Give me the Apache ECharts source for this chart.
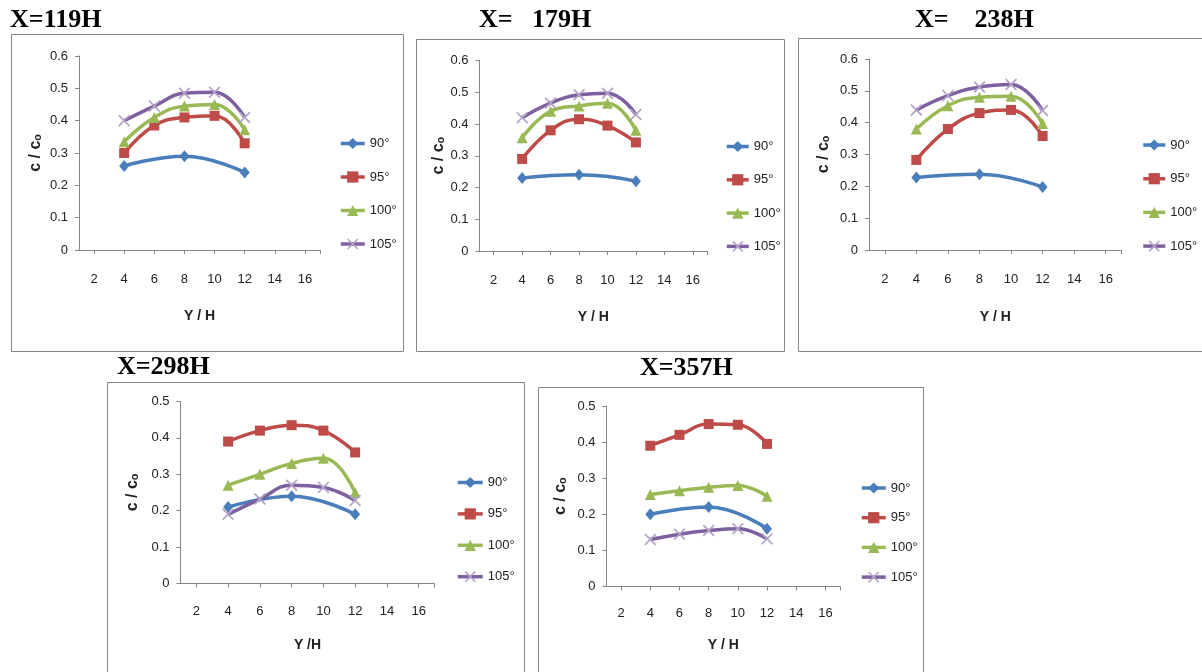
<!DOCTYPE html>
<html>
<head>
<meta charset="utf-8">
<script src="https://cdn.jsdelivr.net/npm/echarts@6/dist/echarts.min.js"></script>
<style>html,body{margin:0;padding:0;background:#fff}#c{width:1202px;height:672px}</style>
</head>
<body>
<div id="c"></div>
<script>
// ---- data ----
const seriesNames = ['90°', '95°', '100°', '105°'];
const xFull = [4, 6, 8, 10, 12];
const x90 = [4, 8, 12];
const panelTitles = ['X=119H', 'X=   179H', 'X=    238H', 'X=298H', 'X=357H'];
const xTickLabels = [2, 4, 6, 8, 10, 12, 14, 16];
const yMaxTop = 0.6;
const yMaxBottom = 0.5;

// X=119H
const p1_90 = [0.26, 0.29, 0.24];
const p1_95 = [0.30, 0.385, 0.41, 0.415, 0.33];
const p1_100 = [0.335, 0.41, 0.445, 0.45, 0.372];
const p1_105 = [0.40, 0.445, 0.485, 0.488, 0.41];
// X=179H
const p2_90 = [0.23, 0.24, 0.22];
const p2_95 = [0.29, 0.38, 0.415, 0.395, 0.342];
const p2_100 = [0.357, 0.44, 0.457, 0.465, 0.38];
const p2_105 = [0.42, 0.466, 0.492, 0.497, 0.43];
// X=238H
const p3_90 = [0.228, 0.238, 0.198];
const p3_95 = [0.283, 0.38, 0.43, 0.44, 0.358];
const p3_100 = [0.38, 0.453, 0.48, 0.483, 0.397];
const p3_105 = [0.44, 0.485, 0.512, 0.52, 0.438];
// X=298H
const p4_90 = [0.21, 0.24, 0.19];
const p4_95 = [0.39, 0.42, 0.435, 0.42, 0.36];
const p4_100 = [0.27, 0.30, 0.33, 0.344, 0.25];
const p4_105 = [0.19, 0.232, 0.27, 0.264, 0.228];
// X=357H
const p5_90 = [0.20, 0.22, 0.16];
const p5_95 = [0.39, 0.42, 0.45, 0.448, 0.395];
const p5_100 = [0.255, 0.265, 0.275, 0.28, 0.25];
const p5_105 = [0.13, 0.145, 0.155, 0.16, 0.132];

const panelData = [
  [p1_90, p1_95, p1_100, p1_105],
  [p2_90, p2_95, p2_100, p2_105],
  [p3_90, p3_95, p3_100, p3_105],
  [p4_90, p4_95, p4_100, p4_105],
  [p5_90, p5_95, p5_100, p5_105]
];

// ---- layout (pixels) ----
const layout = [
  { frame: [11, 34, 392, 317], grid: [79, 56, 241, 194], yMax: yMaxTop, title: [10, 20], legend: [339, 137, 20.5, 24], xGap: 59, yGap: 35, lblM: 23 },
  { frame: [416, 39, 368, 312], grid: [479.5, 60.5, 227.5, 190.5], yMax: yMaxTop, title: [479, 20], legend: [725, 140, 20.3, 22], xGap: 59, yGap: 32, lblM: 23 },
  { frame: [798, 38, 410, 313], grid: [869, 59, 252.5, 191], yMax: yMaxTop, title: [915, 20], legend: [1141.5, 138.5, 20.7, 22], xGap: 60, yGap: 37, lblM: 23 },
  { frame: [107, 382, 417, 300], grid: [180.5, 401.5, 254, 182], yMax: yMaxBottom, title: [117, 367], legend: [456, 476, 18.4, 25], xGap: 55, yGap: 40, lblM: 21 },
  { frame: [538, 387, 385, 300], grid: [606.5, 406, 233.5, 180.5], yMax: yMaxBottom, title: [640, 368], legend: [860, 481.5, 16.7, 24], xGap: 52, yGap: 38, lblM: 20 }
];

const colors = ['#4A7EBB', '#BE4B48', '#98B954', '#7D60A0'];
const markerColors = ['#4A7EBB', '#BE4B48', '#98B954', '#B3A2C7'];
const xPath = 'path://M0,1 L1,0 L5,4 L9,0 L10,1 L6,5 L10,9 L9,10 L5,6 L1,10 L0,9 L4,5 Z';
const symbols = ['diamond', 'rect', 'triangle', xPath];
const symbolSizes = [[10, 12], 10, 11, 12];
const tickFont = 'Liberation Sans, Arial, sans-serif';

const grid = [], xAxis = [], yAxis = [], series = [], legend = [], graphic = [];
layout.forEach((L, p) => {
  grid.push({ left: L.grid[0], top: L.grid[1], width: L.grid[2], height: L.grid[3], containLabel: false });
  xAxis.push({
    type: 'value', gridIndex: p, min: 1, max: 17,
    name: p === 3 ? 'Y /H' : 'Y / H', nameLocation: 'middle', nameGap: L.xGap,
    nameTextStyle: { fontFamily: 'Liberation Sans', fontWeight: 'bold', fontSize: 14, color: '#222' },
    axisLine: { onZero: false, lineStyle: { color: '#868686', width: 1 } },
    axisTick: { show: true, length: 4, lineStyle: { color: '#868686' }, customValues: xTickLabels.concat([17]) },
    axisLabel: { margin: L.lblM, fontFamily: tickFont, fontSize: 13, color: '#222', customValues: xTickLabels },
    splitLine: { show: false }
  });
  yAxis.push({
    type: 'value', gridIndex: p, min: 0, max: L.yMax, interval: 0.1,
    name: 'c / cₒ', nameLocation: 'middle', nameRotate: 90, nameGap: L.yGap,
    nameTextStyle: { fontFamily: 'Liberation Sans', fontWeight: 'bold', fontSize: 16, color: '#222' },
    axisLine: { show: true, lineStyle: { color: '#868686', width: 1 } },
    axisTick: { show: true, length: 4, lineStyle: { color: '#868686' } },
    axisLabel: { margin: 11, fontFamily: tickFont, fontSize: 13, color: '#222' },
    splitLine: { show: false }
  });
  panelData[p].forEach((vals, s) => {
    const xs = s === 0 ? x90 : xFull;
    series.push({
      type: 'line', name: seriesNames[s], xAxisIndex: p, yAxisIndex: p,
      data: vals.map((v, i) => [xs[i], v]),
      smooth: 0.45,
      symbol: symbols[s], symbolSize: symbolSizes[s], showAllSymbol: true,
      lineStyle: { color: colors[s], width: 3.5 },
      itemStyle: { color: markerColors[s] },
      z: 2 + s,
      animation: false
    });
  });
  legend.push({
    orient: 'vertical', left: L.legend[0], top: L.legend[1], itemGap: L.legend[2],
    itemWidth: L.legend[3], itemHeight: 14, padding: 0,
    data: seriesNames,
    lineStyle: { width: 3.5 },
    textStyle: { fontFamily: tickFont, fontSize: 13, color: '#222' },
    selectedMode: false
  });
  graphic.push({
    type: 'rect', silent: true, z: -10,
    shape: { x: L.frame[0] + 0.5, y: L.frame[1] + 0.5, width: L.frame[2], height: L.frame[3] },
    style: { fill: '#fff', stroke: '#868686', lineWidth: 1 }
  });
  graphic.push({
    type: 'text', silent: true,
    style: { x: L.title[0], y: L.title[1], text: panelTitles[p], font: 'bold 26px "Liberation Serif", "Times New Roman", serif', fill: '#000', textVerticalAlign: 'middle' }
  });
});

const chart = echarts.init(document.getElementById('c'), null, { renderer: 'canvas' });
chart.setOption({
  backgroundColor: '#fff',
  animation: false,
  grid, xAxis, yAxis, series, legend, graphic
});
</script>
</body>
</html>
